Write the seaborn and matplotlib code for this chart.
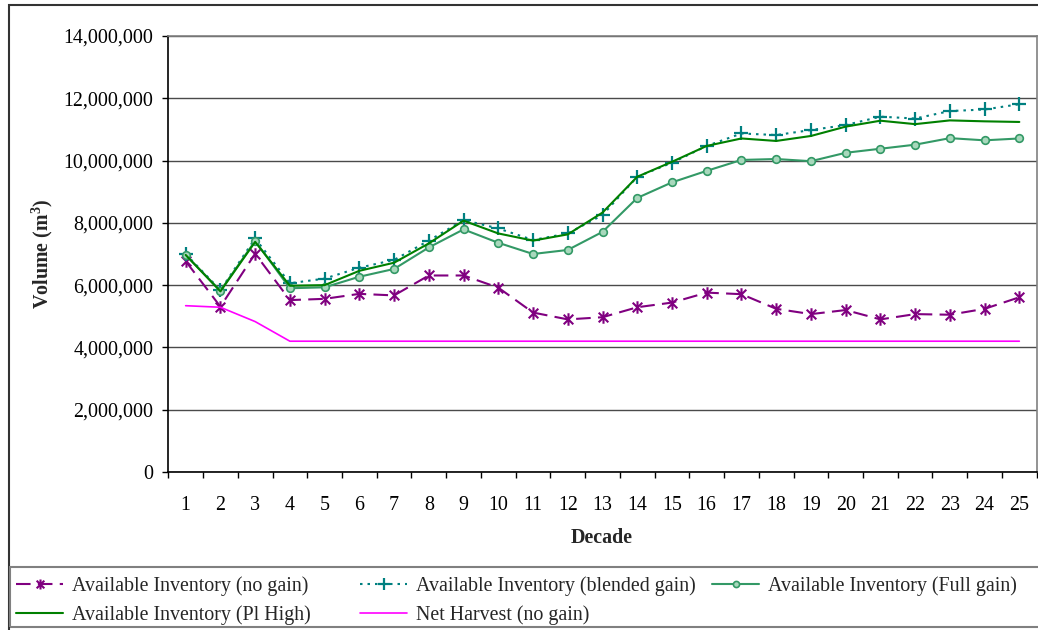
import numpy as np
import pandas as pd
import matplotlib
matplotlib.use("Agg")
import matplotlib.pyplot as plt
from matplotlib.path import Path
from matplotlib.patches import Rectangle
from matplotlib.ticker import FuncFormatter, FixedLocator
import seaborn as sns

decades = list(range(1, 26))
no_gain = [6.77, 5.31, 7.01, 5.52, 5.56, 5.72, 5.67, 6.31, 6.31, 5.92, 5.12, 4.90, 4.97,
           5.29, 5.44, 5.76, 5.71, 5.24, 5.07, 5.20, 4.90, 5.07, 5.05, 5.24, 5.61]
blended_gain = [7.00, 5.84, 7.50, 6.06, 6.21, 6.56, 6.81, 7.43, 8.09, 7.82, 7.45, 7.66, 8.25,
                9.48, 9.93, 10.47, 10.87, 10.82, 10.98, 11.14, 11.41, 11.35, 11.59, 11.64, 11.81]
full_gain = [6.97, 5.82, 7.42, 5.90, 5.93, 6.27, 6.52, 7.21, 7.79, 7.36, 7.00, 7.13, 7.71,
             8.80, 9.30, 9.67, 10.02, 10.05, 9.98, 10.25, 10.38, 10.51, 10.72, 10.65, 10.71]
pl_high = [6.97, 5.80, 7.39, 5.98, 6.00, 6.46, 6.72, 7.34, 8.07, 7.66, 7.43, 7.63, 8.33,
           9.48, 9.96, 10.47, 10.71, 10.63, 10.79, 11.09, 11.28, 11.17, 11.29, 11.26, 11.24]
net_harvest = [5.34, 5.29, 4.83, 4.20, 4.20, 4.20, 4.20, 4.20, 4.20, 4.20, 4.20, 4.20, 4.20,
               4.20, 4.20, 4.20, 4.20, 4.20, 4.20, 4.20, 4.20, 4.20, 4.20, 4.20, 4.20]
series_names = ["Available Inventory (no gain)", "Available Inventory (blended gain)",
                "Available Inventory (Full gain)", "Available Inventory (Pl High)",
                "Net Harvest (no gain)"]
y_ticks = [0, 2e6, 4e6, 6e6, 8e6, 10e6, 12e6, 14e6]

sns.set_theme(style="white")
plt.rcParams['font.family'] = ['Liberation Serif', 'DejaVu Serif']
plt.rcParams['mathtext.fontset'] = 'custom'
plt.rcParams['mathtext.rm'] = 'Liberation Serif'
plt.rcParams['mathtext.bf'] = 'Liberation Serif:bold'

W, H = 1038, 630
fig = plt.figure(figsize=(W / 100, H / 100), dpi=100)
fig.patch.set_facecolor('white')
left, right, top, bottom = 168.3, 1036.7, 36, 472
ax = fig.add_axes([left / W, 1 - bottom / H, (right - left) / W, (bottom - top) / H])

df = pd.DataFrame({"Decade": decades})
for name, vals in zip(series_names, [no_gain, blended_gain, full_gain, pl_high, net_harvest]):
    df[name] = np.array(vals) * 1e6

star = Path([(-1, -1), (1, 1), (-1, 1), (1, -1), (0, -1.3), (0, 1.3)],
            [Path.MOVETO, Path.LINETO, Path.MOVETO, Path.LINETO, Path.MOVETO, Path.LINETO])

styles = {
    series_names[0]: dict(color="#800080", lw=1.5, ls=(0, (7, 3.5)), marker=star, ms=9, mew=1.5,
                          mfc="none"),
    series_names[1]: dict(color="#008080", lw=1.5, ls=(0, (1.2, 2.4)), marker="+", ms=10, mew=1.6),
    series_names[2]: dict(color="#339966", lw=1.5, ls="-", marker="o", ms=5.5, mew=1.2,
                          mfc="#a8d8bc"),
    series_names[3]: dict(color="#008000", lw=1.5, ls="-", marker=None),
    series_names[4]: dict(color="#FF00FF", lw=1.2, ls="-", marker=None),
}

handles = {}
for name in series_names:
    st = styles[name]
    sns.lineplot(data=df, x="Decade", y=name, ax=ax, color=st["color"], linewidth=st["lw"],
                 marker=st["marker"], markersize=st.get("ms", 0), markeredgewidth=st.get("mew", 0),
                 markerfacecolor=st.get("mfc", st["color"]), markeredgecolor=st["color"],
                 label=name, legend=False)
    ln = ax.lines[-1]
    ln.set_linestyle(st["ls"])
    handles[name] = ln

ax.set_xlim(0.5, 25.5)
ax.set_ylim(0, 14e6)
ax.set_xlabel("")
ax.set_ylabel("")
ax.xaxis.set_major_locator(FixedLocator(decades))
ax.xaxis.set_minor_locator(FixedLocator(np.arange(0.5, 26, 1.0)))
ax.set_xticklabels([str(d) for d in decades])
ax.yaxis.set_major_locator(FixedLocator(y_ticks))
ax.yaxis.set_major_formatter(FuncFormatter(lambda v, p: f"{v:,.0f}"))
ax.tick_params(axis='x', which='major', length=0, pad=17, labelsize=14.4, colors='black')
ax.tick_params(axis='x', which='minor', length=4.3, width=1, direction='out', color='black', bottom=True)
ax.tick_params(axis='y', which='major', length=4.3, width=1, direction='out', pad=6.5,
               labelsize=14.4, colors='black', left=True)
ax.grid(axis='y', color='#4a4a4a', lw=1)
ax.grid(axis='x', visible=False)
ax.set_axisbelow(True)
for s in ['left', 'bottom']:
    ax.spines[s].set_color('black')
    ax.spines[s].set_linewidth(1.2)
for s in ['top', 'right']:
    ax.spines[s].set_color('#808080')
    ax.spines[s].set_linewidth(1.2)

fig.text(42 / W, 1 - 254 / H, "Volume (m$^\\mathbf{3}$)", rotation=90, ha='center', va='center',
         fontsize=14.4, fontweight='bold')
fig.text(602 / W, 1 - 538 / H, "Decade", ha='center', va='center', fontsize=14.4, fontweight='bold')

# outer chart border and legend box
fig.patches.append(Rectangle((9 / W, -0.05), 1.2, 1 - 5 / H + 0.05, transform=fig.transFigure,
                             fill=False, ec='#333333', lw=1.5, clip_on=False))
fig.patches.append(Rectangle((10 / W, 3 / H), 1.2, 60 / H, transform=fig.transFigure,
                             fill=False, ec='#808080', lw=1.5, clip_on=False))

cols = [([series_names[0], series_names[3]], 16),
        ([series_names[1], series_names[4]], 360),
        ([series_names[2]], 712)]
for names, x0 in cols:
    fig.legend([handles[n] for n in names], names, loc='upper left',
               bbox_to_anchor=(x0 / W, 1 - 576 / H), frameon=False, fontsize=14.4,
               borderpad=0, borderaxespad=0, handlelength=2.35, handletextpad=0.45,
               labelspacing=0.5, numpoints=1, markerscale=0.8)

fig.savefig("out.png", dpi=100)
